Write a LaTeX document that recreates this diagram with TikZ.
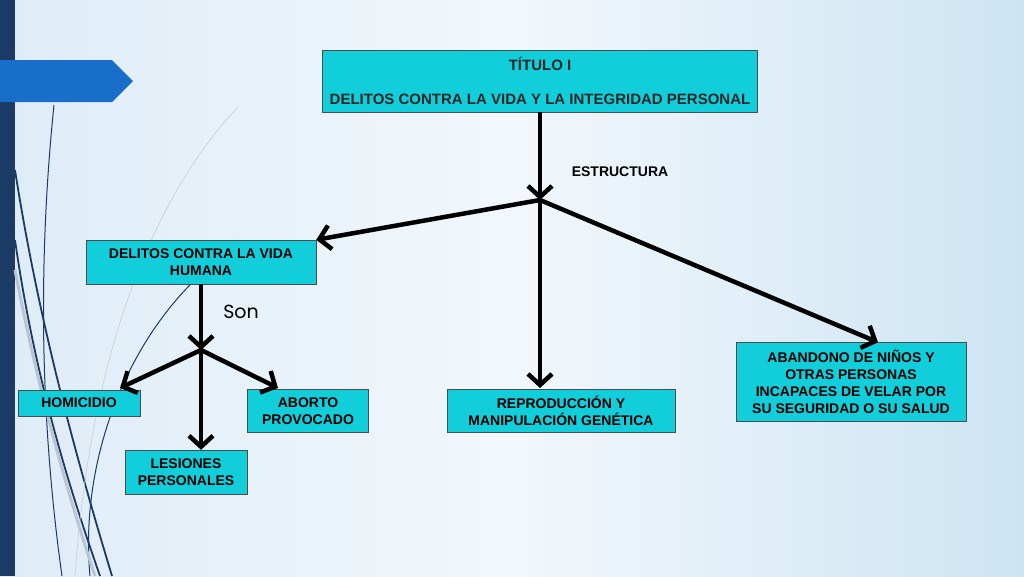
\documentclass[tikz,border=0pt]{standalone}
\usepackage{fontspec}
\setmainfont{Liberation Sans}
\newfontfamily\gothic{Poppins}
\usetikzlibrary{arrows.meta}
\definecolor{boxcyan}{RGB}{18,206,218}
\definecolor{bardark}{RGB}{27,58,102}
\definecolor{tabblue}{RGB}{24,110,200}
\definecolor{bgleft}{RGB}{222,236,247}
\definecolor{bgright}{RGB}{205,228,243}
\tikzset{
  box/.style={draw=black!70, fill=boxcyan, align=center, font=\bfseries\fontsize{14}{17}\selectfont, inner sep=2pt},
  conn/.style={line width=4.5pt, -{Straight Barb[length=11pt,width=24pt,line width=4.5pt]}},
  curve/.style={draw=bardark, line width=1.8pt}
}
\begin{document}
\begin{tikzpicture}[x=1pt,y=-1pt]
\useasboundingbox (0,0) rectangle (1024,576);
% background
\shade[left color=bgleft, right color=bgright, middle color=white!60!bgleft] (0,0) rectangle (1024,576);
\fill[bardark] (0,0) rectangle (15,576);
\fill[tabblue] (0,60) -- (112,60) -- (133,81) -- (112,102) -- (0,102) -- cycle;
% decorative curves
\draw[curve, line width=1pt] (54,105) .. controls (38,260) and (40,420) .. (62,576);
\draw[curve] (15,170) .. controls (40,330) and (80,470) .. (112,576);
\draw[curve] (15,240) .. controls (35,380) and (70,490) .. (100,576);
\draw[curve, line width=1pt] (200,275) .. controls (120,350) and (80,470) .. (90,576);
\draw[curve, draw=bardark!30, line width=3pt] (15,270) .. controls (40,400) and (70,500) .. (95,576);
\draw[curve, draw=gray!40, line width=0.6pt] (238,107) .. controls (150,200) and (90,360) .. (75,576);

% nodes
\node[box, minimum width=435pt, minimum height=62pt, font=\bfseries\fontsize{15}{34}\selectfont, text=black!85] (titulo) at (540,81) {TÍTULO I\\DELITOS CONTRA LA VIDA Y LA INTEGRIDAD PERSONAL};
\node[font=\bfseries\fontsize{14}{16}\selectfont] (estructura) at (620,172) {ESTRUCTURA};
\coordinate (hubA) at (540,200);
\node[box, minimum width=230pt, minimum height=44pt] (vida) at (201,262) {DELITOS CONTRA LA VIDA\\HUMANA};
\node[font=\gothic\fontsize{19}{20}\selectfont] (son) at (241,312) {Son};
\coordinate (hubB) at (201,350);
\node[box, minimum width=122pt, minimum height=26pt] (homicidio) at (79,403) {HOMICIDIO};
\node[box, minimum width=122pt, minimum height=44pt] (lesiones) at (186,472) {LESIONES\\PERSONALES};
\node[box, minimum width=121pt, minimum height=43pt] (aborto) at (308,411) {ABORTO\\PROVOCADO};
\node[box, minimum width=228pt, minimum height=43pt] (repro) at (561,411) {REPRODUCCIÓN Y\\MANIPULACIÓN GENÉTICA};
\node[box, minimum width=230pt, minimum height=79pt] (abandono) at (851,382) {ABANDONO DE NIÑOS Y\\OTRAS PERSONAS\\INCAPACES DE VELAR POR\\SU SEGURIDAD O SU SALUD};

% connectors
\draw[conn] (titulo.south) -- (hubA);
\draw[conn] (hubA) -- (vida.north east);
\draw[conn] (hubA) -- (540,388);
\draw[conn] (hubA) -- (abandono.north -| 878,0);
\draw[conn] (vida.south) -- (hubB);
\draw[conn] (hubB) -- (120,388);
\draw[conn] (hubB) -- (lesiones.north -| hubB);
\draw[conn] (hubB) -- (278,388);
\end{tikzpicture}
\end{document}
